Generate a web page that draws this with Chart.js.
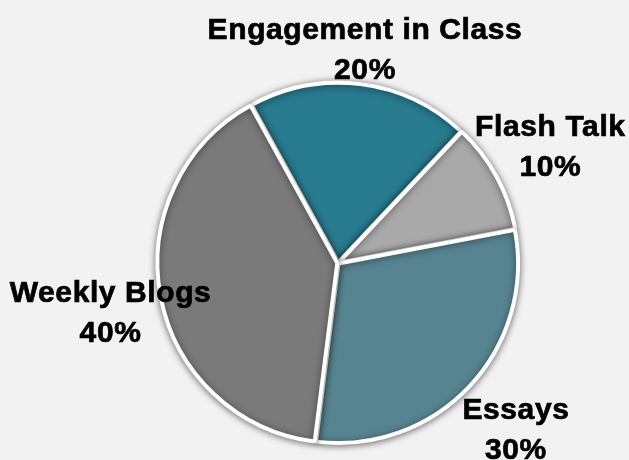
<!DOCTYPE html>
<html>
<head>
<meta charset="utf-8">
<script src="https://cdn.jsdelivr.net/npm/chart.js@4.4.1/dist/chart.umd.min.js"></script>
<style>
  html, body { margin: 0; padding: 0; background: #f2f2f2; }
  #wrap { width: 629px; height: 460px; position: relative; }
</style>
</head>
<body>
<div id="wrap"><canvas id="grafica"></canvas></div>
<script>
"use strict";
/* DATOS */
const categorias = ["Engagement in Class", "Flash Talk", "Essays", "Weekly Blogs"];
const porcentajes = [20, 10, 30, 40];
const colores = ["#287a8e", "#a9a9a9", "#578491", "#7a7a7a"];
/* distancia de cada etiqueta al centro, en radios */
const distanciaEtiqueta = [1.2, 1.35, 1.36, 1.29];

/* SOMBRA DE LAS PORCIONES */
const sombraPlugin = {
    id: "sombra",
    beforeDatasetDraw(chart) {
        const ctx = chart.ctx;
        ctx.save();
        ctx.shadowColor = "rgba(0,0,0,0.5)";
        ctx.shadowBlur = 7;
        ctx.shadowOffsetX = 0;
        ctx.shadowOffsetY = 1;
    },
    afterDatasetDraw(chart) {
        chart.ctx.restore();
    }
};

/* ETIQUETAS FUERA DEL PASTEL */
const etiquetasPlugin = {
    id: "etiquetas",
    afterDatasetsDraw(chart) {
        const ctx = chart.ctx;
        const meta = chart.getDatasetMeta(0);
        ctx.save();
        ctx.font = "bold 30px 'Liberation Sans', Arial, sans-serif";
        ctx.letterSpacing = "0.6px";
        ctx.fillStyle = "#000";
        ctx.strokeStyle = "#000";
        ctx.lineWidth = 0.7;
        ctx.textAlign = "center";
        ctx.textBaseline = "middle";
        meta.data.forEach((arco, i) => {
            const p = arco.getProps(["x", "y", "startAngle", "endAngle", "outerRadius"], true);
            const medio = (p.startAngle + p.endAngle) / 2;
            const d = p.outerRadius * distanciaEtiqueta[i];
            const x = p.x + Math.cos(medio) * d;
            let y = p.y + Math.sin(medio) * d;
            if (i === 3) y += 6;
            const lineas = [categorias[i], porcentajes[i] + "%"];
            lineas.forEach((texto, j) => {
                const ty = y + (j === 0 ? -19 : 21);
                ctx.fillText(texto, x, ty);
                ctx.strokeText(texto, x, ty);
            });
        });
        ctx.restore();
    }
};

function inicializarGrafica() {
    const canvas = document.getElementById("grafica");
    new Chart(canvas, {
        type: "pie",
        data: {
            labels: categorias,
            datasets: [{
                data: porcentajes,
                backgroundColor: colores,
                borderColor: "#ffffff",
                borderWidth: 4,
                offset: 3
            }]
        },
        options: {
            responsive: true,
            maintainAspectRatio: false,
            animation: false,
            rotation: -28.8,
            layout: {
                padding: { top: 80, bottom: 14, left: 155, right: 108 }
            },
            plugins: {
                legend: { display: false },
                tooltip: { enabled: false }
            }
        },
        plugins: [sombraPlugin, etiquetasPlugin]
    });
}

document.addEventListener("DOMContentLoaded", () => {
    inicializarGrafica();
});
</script>
</body>
</html>
